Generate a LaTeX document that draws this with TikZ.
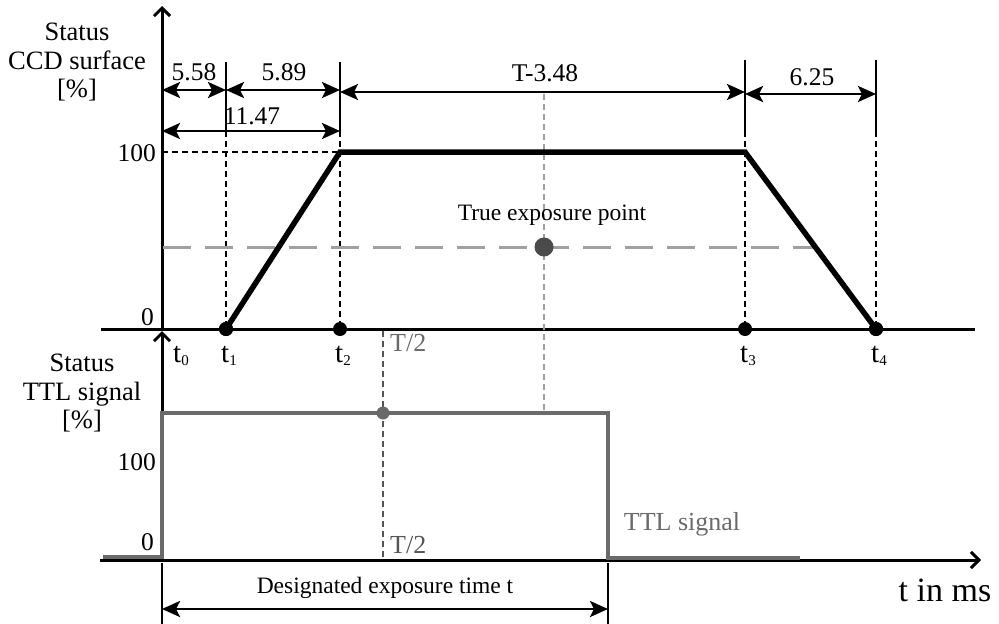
\documentclass[tikz,border=0pt]{standalone}
\usepackage{fontspec}
\setmainfont{Liberation Serif}
\usetikzlibrary{arrows.meta}
\definecolor{ttlgray}{HTML}{6A6A6A}
\definecolor{lightg}{HTML}{A0A0A0}
\definecolor{darkg}{HTML}{555555}
\definecolor{dotg}{HTML}{4A4A4A}
\begin{document}
\begin{tikzpicture}[x=1pt,y=-1pt,
  lbl/.style={inner sep=0pt, font=\fontsize{25.5}{29}\selectfont, align=center},
  side/.style={lbl, font=\fontsize{26.5}{28.5}\selectfont},
  axis/.style={line width=3pt, black},
  axarrow/.style={axis, -{Straight Barb[length=8pt,width=16pt]}},
  dimline/.style={line width=2.8pt, {Stealth[length=18pt,width=16pt,inset=4pt]}-{Stealth[length=18pt,width=16pt,inset=4pt]}},
  extline/.style={line width=2.8pt},
  shortdash/.style={line width=2.8pt, dash pattern=on 6pt off 4pt},
  trap/.style={line width=5.5pt, line join=miter},
  ttl/.style={line width=4.5pt, ttlgray, line join=miter},
  bigdot/.style={circle, fill=black, inner sep=0pt, minimum size=14pt},
  tlab/.style={inner sep=0pt, anchor=base, font=\fontsize{29}{30}\selectfont}]
\useasboundingbox (0,0) rectangle (999,624);
\newcommand{\tsub}[1]{t\raisebox{-0.3ex}{\fontsize{15}{15}\selectfont #1}}
% ---------- coordinates ----------
\coordinate (O) at (162,329);
\coordinate (Ytop) at (162,6);
\coordinate (Xl) at (101,329);
\coordinate (Xr) at (975,329);
\coordinate (L0) at (162,560);
\coordinate (Ltop) at (162,331);
\coordinate (Lxl) at (100,560);
\coordinate (Lxr) at (981,560);
\coordinate (c2) at (340,152);
\coordinate (c3) at (745,152);
% extension line ends
\coordinate (e1a) at (226,62);  \coordinate (e1b) at (226,131);
\coordinate (e2a) at (340,62);  \coordinate (e2b) at (340,131);
\coordinate (e3a) at (745,60);  \coordinate (e3b) at (745,131);
\coordinate (e4a) at (876,60);  \coordinate (e4b) at (876,131);
% dimension arrow ends
\coordinate (a0) at (162,90); \coordinate (a1) at (226,90); \coordinate (a2) at (340,90);
\coordinate (b0) at (162,131); \coordinate (b2) at (340,131);
\coordinate (c2d) at (340,92); \coordinate (c3d) at (745,92);
\coordinate (d3) at (745,94); \coordinate (d4) at (876,94);
% ---------- axes ----------
\draw[axis] (Xl) -- (Xr);
\draw[axarrow] (O) -- (Ytop);
\draw[axis] (Lxl) -- (L0);
\draw[axarrow] (L0) -- (Lxr);
\draw[axarrow] (L0) -- (Ltop);
% ---------- extension lines ----------
\draw[extline] (e1a) -- (e1b);
\draw[extline] (e2a) -- (e2b);
\draw[extline] (e3a) -- (e3b);
\draw[extline] (e4a) -- (e4b);
% ---------- dots on time axis ----------
\node[bigdot] (t1) at (226,329) {};
\node[bigdot] (t2) at (340,329) {};
\node[bigdot] (t3) at (745,329) {};
\node[bigdot] (t4) at (876,329) {};
\draw[shortdash] (e1b) -- (t1.center);
\draw[shortdash] (e2b) -- (t2.center);
\draw[shortdash] (e3b) -- (t3.center);
\draw[shortdash] (e4b) -- (t4.center);
\coordinate (h100) at (162,152);
\draw[shortdash] (h100) -- (c2);
% ---------- gray helper lines ----------
\coordinate (gl) at (163,247);
\coordinate (gr) at (815,247);
\draw[lightg, line width=3pt, dash pattern=on 28pt off 14pt] (gl) -- (gr);
\coordinate (vtop) at (544,94);
\coordinate (vbot) at (544,413);
\draw[lightg, line width=2.8pt, dash pattern=on 6pt off 4pt] (vtop) -- (vbot);
\coordinate (ht) at (383,331);
\coordinate (hb) at (383,559);
\draw[darkg, line width=2.8pt, dash pattern=on 6pt off 4pt] (ht) -- (hb);
% ---------- trapezoid ----------
\draw[trap] (t1.center) -- (c2) -- (c3) -- (t4.center);
\node[bigdot] at (t1) {};
\node[bigdot] at (t4) {};
% ---------- TTL signal ----------
\coordinate (s0) at (103,557);
\coordinate (s1) at (162,557);
\coordinate (s2) at (162,413);
\coordinate (s3) at (608,413);
\coordinate (s4) at (608,558);
\coordinate (s5) at (800,558);
\draw[ttl] (s0) -- (s1) -- (s2) -- (s3) -- (s4) -- (s5);
\node[circle, fill=ttlgray, inner sep=0pt, minimum size=13pt] (half) at (383,413) {};
\node[circle, fill=dotg, inner sep=0pt, minimum size=19pt] (tep) at (544,247) {};
% ---------- dimension arrows ----------
\draw[dimline] (a0) -- (a1);
\draw[dimline] (a1) -- (a2);
\draw[dimline] (b0) -- (b2);
\draw[dimline] (c2d) -- (c3d);
\draw[dimline] (d3) -- (d4);
\node[lbl] (l558) at (194,72) {5.58};
\node[lbl] (l589) at (284,72) {5.89};
\node[lbl] (l1147) at (252,116) {11.47};
\node[lbl] (lT) at (545,73) {T-3.48};
\node[lbl] (l625) at (812,77) {6.25};
% designated exposure
\coordinate (x0a) at (162,563); \coordinate (x0b) at (162,624);
\coordinate (x1a) at (608,563); \coordinate (x1b) at (608,624);
\draw[extline] (x0a) -- (x0b);
\draw[extline] (x1a) -- (x1b);
\coordinate (g0) at (162,609); \coordinate (g1) at (608,609);
\draw[dimline] (g0) -- (g1);
\node[lbl, font=\fontsize{23.5}{27}\selectfont] (ldes) at (385,588) {Designated exposure time t};
% ---------- labels ----------
\node[side] (ccd) at (77,62) {Status\\CCD surface\\{[\%]}};
\node[side] (ttlst) at (82,393) {Status\\TTL signal\\{[\%]}};
\node[lbl, anchor=east] (u100) at (156,153) {100};
\node[lbl, anchor=east] (u0) at (154,317) {0};
\node[lbl, anchor=east] (d100) at (156,462) {100};
\node[lbl, anchor=east] (d0) at (154,542) {0};
\node[tlab] (lt0) at (181,362) {\tsub{0}};
\node[tlab] (lt1) at (229,362) {\tsub{1}};
\node[tlab] (lt2) at (343,362) {\tsub{2}};
\node[tlab] (lt3) at (748,362) {\tsub{3}};
\node[tlab] (lt4) at (879,362) {\tsub{4}};
\node[lbl, anchor=west, text=ttlgray, font=\fontsize{26}{30}\selectfont] (th1) at (390,343) {T/2};
\node[lbl, anchor=west, text=darkg, font=\fontsize{26}{30}\selectfont] (th2) at (390,545) {T/2};
\node[lbl, font=\fontsize{23.5}{27}\selectfont] (ltep) at (552,215) {True exposure point};
\node[lbl, text=ttlgray, font=\fontsize{26}{30}\selectfont] (lttl) at (682,524) {TTL signal};
\node[lbl, font=\fontsize{34}{40}\selectfont] (ltms) at (945,590) {t in ms};
\end{tikzpicture}
\end{document}
